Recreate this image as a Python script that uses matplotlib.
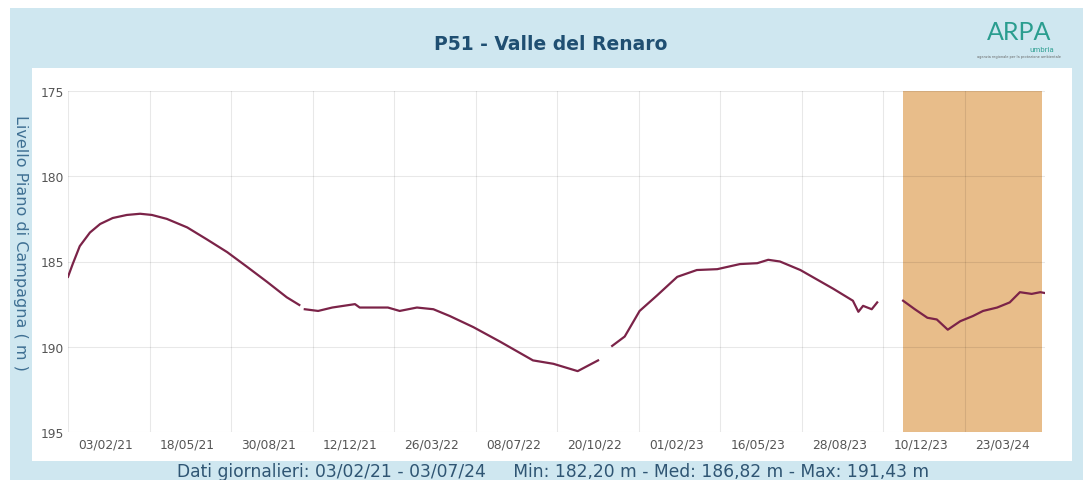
import numpy as np
import pandas as pd
import matplotlib
matplotlib.use('Agg')
import matplotlib.pyplot as plt
from matplotlib.patches import Rectangle

# dati (NaN = interruzione della serie)
date = ['2021-02-03', '2021-02-09', '2021-02-18', '2021-03-03', '2021-03-16', '2021-04-01',
        '2021-04-19', '2021-05-06', '2021-05-21', '2021-06-09', '2021-07-05', '2021-07-30',
        '2021-08-25', '2021-09-19', '2021-10-15', '2021-11-09', '2021-11-25', '2021-11-28',
        '2021-12-02', '2021-12-19', '2022-01-06', '2022-02-04', '2022-02-10', '2022-03-18',
        '2022-04-02', '2022-04-24', '2022-05-15', '2022-06-05', '2022-07-05', '2022-08-08',
        '2022-09-19', '2022-10-15', '2022-11-15', '2022-12-11', '2022-12-20',
        '2022-12-29', '2023-01-14', '2023-02-02', '2023-02-24', '2023-03-22', '2023-04-16',
        '2023-05-12', '2023-06-10', '2023-07-02', '2023-07-16', '2023-07-31', '2023-08-26',
        '2023-10-07', '2023-11-01', '2023-11-08', '2023-11-14', '2023-11-25', '2023-12-02',
        '2023-12-18',
        '2024-01-04', '2024-01-19', '2024-02-04', '2024-02-16', '2024-03-01', '2024-03-17',
        '2024-04-02', '2024-04-15', '2024-05-03', '2024-05-19', '2024-06-01', '2024-06-16',
        '2024-06-27', '2024-07-03']
livello = [185.9, 185.15, 184.1, 183.3, 182.8, 182.45,
           182.27, 182.2, 182.27, 182.5, 183.0, 183.7,
           184.45, 185.3, 186.2, 187.1, 187.55, np.nan,
           187.8, 187.9, 187.7, 187.5, 187.7, 187.7,
           187.9, 187.7, 187.8, 188.2, 188.85, 189.7,
           190.8, 191.0, 191.43, 190.8, np.nan,
           189.95, 189.4, 187.9, 187.0, 185.9, 185.5,
           185.45, 185.15, 185.1, 184.9, 185.0, 185.5,
           186.6, 187.3, 187.95, 187.6, 187.8, 187.4,
           np.nan,
           187.3, 187.8, 188.3, 188.4, 189.0, 188.5,
           188.2, 187.9, 187.7, 187.4, 186.8, 186.9,
           186.8, 186.85]

inizio = pd.Timestamp('2021-02-03')
fine = pd.Timestamp('2024-07-03')
zona_inizio = pd.Timestamp('2024-01-04')
zona_fine = pd.Timestamp('2024-06-29')
passo = 104  # giorni tra le linee della griglia

date = pd.to_datetime(date)

fig = plt.figure(figsize=(10.83, 4.81), dpi=100)
fig.patch.set_facecolor('white')
# cornice azzurra e pannello bianco
fig.add_artist(Rectangle((10/1083, 0), 1, 472/481, transform=fig.transFigure,
                         facecolor='#cfe7f0', edgecolor='none', zorder=-10))
fig.add_artist(Rectangle((32/1083, 1-462/481), 1040/1083, 393/481, transform=fig.transFigure,
                         facecolor='white', edgecolor='none', zorder=-9))

ax = fig.add_axes([68/1083, 1-433/481, 977/1083, 341/481])
ax.set_facecolor('none')

ax.axvspan(zona_inizio, zona_fine, color='#e8bd8a', zorder=1, lw=0)
ax.plot(date, livello, color='#7b2348', lw=1.6, zorder=3)

ax.set_xlim(inizio, fine)
ax.set_ylim(195, 175)
ax.set_yticks([175, 180, 185, 190, 195])

griglia = [inizio + pd.Timedelta(days=passo*i) for i in range(12)]
etichette = [g + pd.Timedelta(days=48) for g in griglia]
ax.set_xticks(griglia)
ax.set_xticklabels([])
ax.set_xticks(etichette, minor=True)
ax.set_xticklabels([g.strftime('%d/%m/%y') for g in griglia], minor=True)
ax.tick_params(axis='x', which='both', length=0, pad=4, labelsize=8.8, labelcolor='#555555')
ax.tick_params(axis='y', length=0, pad=3, labelsize=8.8, labelcolor='#555555')
ax.grid(True, which='major', color='black', alpha=0.09, lw=0.8, zorder=2)
ax.set_axisbelow(False)
for s in ax.spines.values():
    s.set_visible(False)

fig.text(551/1083, 1-44/481, 'P51 - Valle del Renaro', ha='center', va='center',
         fontsize=13.5, fontweight='bold', color='#1f4f72')
fig.text(20/1083, 1-243/481, 'Livello Piano di Campagna ( m )', ha='center', va='center',
         rotation=-90, fontsize=11.5, color='#3f7093')
fig.text(553/1083, 1-472/481,
         'Dati giornalieri: 03/02/21 - 03/07/24     Min: 182,20 m - Med: 186,82 m - Max: 191,43 m',
         ha='center', va='center', fontsize=12.3, color='#2f5573')

# logo
fig.text(1019/1083, 1-33/481, 'ARPA', ha='center', va='center', fontsize=18,
         color='#2a9d8f', family='Lato')
fig.text(1054/1083, 1-50/481, 'umbria', ha='right', va='center', fontsize=5,
         color='#2a9d8f')
fig.text(1019/1083, 1-57/481, 'agenzia regionale per la protezione ambientale', ha='center',
         va='center', fontsize=2.5, color='#666666')

fig.savefig('out.png', dpi=100)
